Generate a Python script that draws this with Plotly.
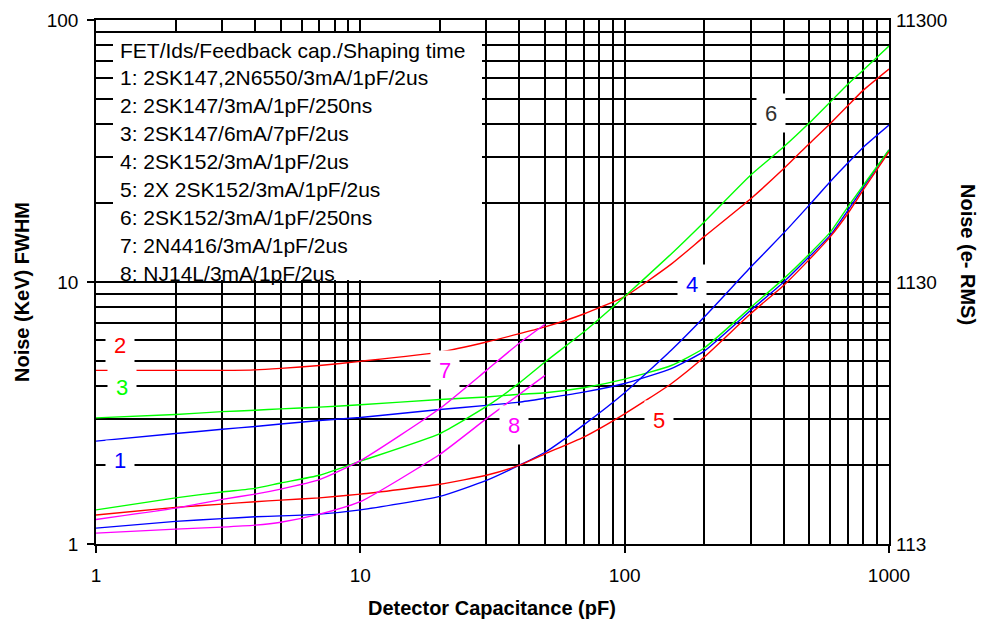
import math
import plotly.graph_objects as go

# ---------------- data ----------------
cap_full = [1, 2, 3, 4, 5, 7, 10, 20, 30, 40, 50, 70, 100, 150, 200, 300, 400, 500, 600, 700, 800, 1000]
cap_short = [1, 2, 3, 4, 5, 7, 10, 20, 30, 40, 50]

noise_1 = [2.47, 2.64, 2.74, 2.81, 2.87, 2.96, 3.04, 3.26, 3.38, 3.48, 3.60, 3.80, 4.10, 4.67, 5.45, 7.80, 10.0, 12.5, 15.1, 18.8, 23.0, 31.9]
noise_2 = [4.60, 4.60, 4.60, 4.62, 4.68, 4.80, 4.98, 5.40, 5.90, 6.35, 6.74, 7.55, 8.80, 11.7, 14.9, 20.8, 27.1, 33.8, 40.3, 47.2, 54.0, 65.0]
noise_3 = [3.03, 3.12, 3.20, 3.24, 3.28, 3.33, 3.40, 3.56, 3.64, 3.73, 3.78, 3.95, 4.26, 4.80, 5.60, 8.00, 10.3, 12.8, 15.5, 19.4, 23.4, 31.9]
noise_4 = [1.15, 1.22, 1.25, 1.27, 1.28, 1.30, 1.35, 1.52, 1.75, 2.00, 2.24, 2.85, 3.78, 5.49, 7.35, 11.4, 15.4, 19.7, 24.2, 28.5, 32.7, 39.7]
noise_5 = [1.29, 1.38, 1.42, 1.45, 1.47, 1.50, 1.55, 1.69, 1.83, 2.00, 2.21, 2.56, 3.14, 4.09, 5.17, 7.58, 9.72, 12.2, 14.9, 18.3, 22.5, 31.4]
noise_6 = [1.35, 1.50, 1.58, 1.63, 1.71, 1.83, 2.07, 2.64, 3.35, 4.12, 4.95, 6.44, 8.80, 12.8, 16.96, 25.6, 32.8, 40.5, 48.7, 57.0, 64.4, 79.6]
noise_7 = [1.24, 1.37, 1.48, 1.55, 1.62, 1.76, 2.08, 3.29, 4.60, 5.85, 6.90]
noise_8 = [1.10, 1.14, 1.16, 1.18, 1.21, 1.30, 1.45, 2.20, 3.01, 3.73, 4.40]

legend_lines = [
    "FET/Ids/Feedback cap./Shaping time",
    "1: 2SK147,2N6550/3mA/1pF/2us",
    "2: 2SK147/3mA/1pF/250ns",
    "3: 2SK147/6mA/7pF/2us",
    "4: 2SK152/3mA/1pF/2us",
    "5: 2X 2SK152/3mA/1pF/2us",
    "6: 2SK152/3mA/1pF/250ns",
    "7: 2N4416/3mA/1pF/2us",
    "8: NJ14L/3mA/1pF/2us",
]

x_ticks = [1, 10, 100, 1000]
y_ticks = [1, 10, 100]
y2_ticks = [113, 1130, 11300]

# ---------------- styling ----------------
RED, GREEN, BLUE, MAG = "#ff0000", "#00ff00", "#0000ff", "#ff00ff"
FONT = "Liberation Sans, Arial, sans-serif"

series = [
    (cap_full, noise_1, BLUE),
    (cap_full, noise_2, RED),
    (cap_full, noise_3, GREEN),
    (cap_full, noise_4, BLUE),
    (cap_full, noise_5, RED),
    (cap_full, noise_6, GREEN),
    (cap_short, noise_7, MAG),
    (cap_short, noise_8, MAG),
]

# label: text, colour, (log10 x, log10 y) position
curve_labels = [
    ("1", BLUE, 0.092, 0.321),
    ("2", RED, 0.092, 0.758),
    ("3", GREEN, 0.098, 0.599),
    ("4", BLUE, 2.253, 0.994),
    ("5", RED, 2.131, 0.4745),
    ("6", "#303030", 2.552, 1.646),
    ("7", MAG, 1.321, 0.663),
    ("8", MAG, 1.5815, 0.4527),
]

fig = go.Figure()
for xs, ys, col in series:
    fig.add_trace(go.Scatter(x=xs, y=ys, mode="lines",
                             line=dict(color=col, width=1.4, shape="spline", smoothing=0.5),
                             showlegend=False, hoverinfo="skip"))

# invisible trace that carries the right-hand (electrons) axis
fig.add_trace(go.Scatter(x=[x_ticks[0], x_ticks[-1]], y=[y2_ticks[0], y2_ticks[-1]], yaxis="y2",
                         mode="lines", line=dict(width=0, color="rgba(0,0,0,0)"),
                         showlegend=False, hoverinfo="skip"))

minor_x = [m * d for d in (1, 10, 100) for m in range(2, 10)]
minor_y = [m * d for d in (1, 10) for m in range(2, 10)]

GRID = "#000000"
GW = 1.6

# plot area 793 x 524 px (page body adds an 8px offset)
fig.update_layout(
    width=986, height=617,
    margin=dict(l=88, r=105, t=12, b=81),
    paper_bgcolor="white", plot_bgcolor="white",
    font=dict(family=FONT, size=19, color="#000"),
    xaxis=dict(type="log", range=[0, 3], tickvals=x_ticks, ticktext=[str(v) for v in x_ticks],
               ticks="outside", ticklen=7, tickwidth=1.5, tickcolor="#000",
               showline=True, linecolor="#000", linewidth=1.6, mirror=True,
               showgrid=True, gridcolor=GRID, gridwidth=GW, zeroline=False,
               minor=dict(tickvals=minor_x, showgrid=True, gridcolor=GRID, gridwidth=GW, ticks=""),
               tickfont=dict(size=19), ticklabelstandoff=6, automargin=False),
    yaxis=dict(type="log", range=[0, 2], tickvals=y_ticks, ticktext=[str(v) for v in y_ticks],
               ticks="outside", ticklen=7, tickwidth=1.5, tickcolor="#000",
               showline=True, linecolor="#000", linewidth=1.6, mirror=True,
               showgrid=True, gridcolor=GRID, gridwidth=GW, zeroline=False,
               minor=dict(tickvals=minor_y, showgrid=True, gridcolor=GRID, gridwidth=GW, ticks=""),
               tickfont=dict(size=19), ticklabelstandoff=5, automargin=False),
    yaxis2=dict(type="log", overlaying="y", side="right",
                range=[math.log10(y2_ticks[0]), math.log10(y2_ticks[-1])],
                tickvals=y2_ticks, ticktext=[str(v) for v in y2_ticks],
                ticks="", showgrid=False, showline=False, zeroline=False,
                tickfont=dict(size=19), ticklabelstandoff=6, automargin=False),
)

# white panel behind the legend text (no curves pass through this region)
fig.add_shape(type="rect", xref="paper", yref="paper",
              x0=(113 - 96) / 793, x1=(482 - 96) / 793,
              y0=(544 - 280) / 524, y1=(544 - 33) / 524,
              fillcolor="white", line=dict(width=0), layer="above")

for i, txt in enumerate(legend_lines):
    py = 50 + 27.9 * i
    fig.add_annotation(text=txt, xref="paper", yref="paper",
                       x=(118 - 96) / 793, y=(544 - py) / 524,
                       xanchor="left", yanchor="middle", showarrow=False,
                       font=dict(family=FONT, size=21, color="#000"))

for txt, col, lx, ly in curve_labels:
    fig.add_annotation(text=txt, x=lx, y=ly, xref="x", yref="y", showarrow=False,
                       font=dict(family=FONT, size=22, color=col),
                       bgcolor="white", width=26, height=36)

# axis titles
fig.add_annotation(text="<b>Detector Capacitance (pF)</b>", xref="paper", yref="paper",
                   x=(492 - 96) / 793, y=(544 - 608) / 524, showarrow=False,
                   xanchor="center", yanchor="middle", font=dict(family=FONT, size=20, color="#000"))
fig.add_annotation(text="<b>Noise (KeV) FWHM</b>", xref="paper", yref="paper",
                   x=(22 - 96) / 793, y=(544 - 292) / 524, showarrow=False, textangle=-90,
                   xanchor="center", yanchor="middle", font=dict(family=FONT, size=20, color="#000"))
fig.add_annotation(text="<b>Noise (e- RMS)</b>", xref="paper", yref="paper",
                   x=(968 - 96) / 793, y=(544 - 255) / 524, showarrow=False, textangle=90,
                   xanchor="center", yanchor="middle", font=dict(family=FONT, size=20, color="#000"))

fig.write_html("out.html")
